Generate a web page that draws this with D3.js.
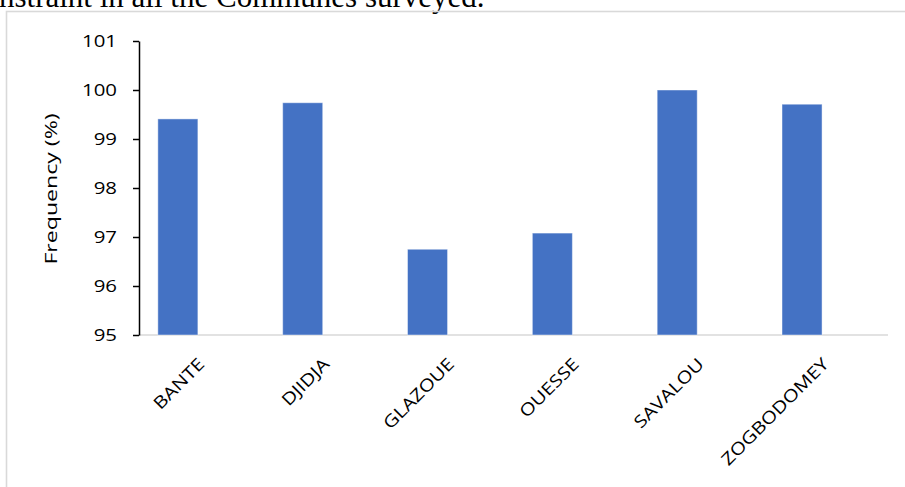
<!DOCTYPE html>
<html>
<head>
<meta charset="utf-8">
<script src="https://cdn.jsdelivr.net/npm/d3@7"></script>
<style>
  body { margin: 0; background: #ffffff; overflow: hidden; }
  text { font-family: "Open Sans", "Noto Sans", sans-serif; fill: #000000; }
</style>
</head>
<body>
<script>
'use strict';

// chart data
const communes = ["BANTE", "DJIDJA", "GLAZOUE", "OUESSE", "SAVALOU", "ZOGBODOMEY"];
const frequency = [99.41, 99.74, 96.75, 97.08, 100.0, 99.71];
const yTicks = [95, 96, 97, 98, 99, 100, 101];
const yTitle = "Frequency (%)";
const captionText = "nstraint in all the Communes surveyed.";

(function() {

  let svgContainer = ""; // keep SVG reference in global scope
  let data = communes.map((c, i) => ({ commune: c, value: frequency[i] }));

  window.onload = function() {
    svgContainer = d3.select('body')
      .append('svg')
      .attr('width', 905)
      .attr('height', 487);

    svgContainer.append('rect')
      .attr('width', 905)
      .attr('height', 487)
      .attr('fill', '#ffffff');

    // document text cut off above the chart
    svgContainer.append('text')
      .attr('x', -1)
      .attr('y', 7)
      .style('font-family', '"Liberation Serif", "Times New Roman", serif')
      .style('font-size', '31px')
      .text(captionText);

    // chart frame
    svgContainer.append('rect')
      .attr('x', 6.5)
      .attr('y', 11.5)
      .attr('width', 960)
      .attr('height', 520)
      .attr('fill', 'none')
      .attr('stroke', '#d9d9d9')
      .attr('stroke-width', 1.6);

    let maps = drawAxes();
    plotData(maps);
    makeLabels(maps);
  }

  // scales and axes
  function drawAxes() {
    let xScale = d3.scaleBand()
      .domain(communes)
      .range([139, 888])
      .padding(0);

    // two slots per category like an excel cluster, only the first is filled
    let slot = d3.scaleBand()
      .domain(["Frequency", "empty"])
      .range([0, xScale.bandwidth()])
      .paddingInner(0.15)
      .paddingOuter(0.4);

    let yScale = d3.scaleLinear()
      .domain([95, 101])
      .range([335, 41]);

    // gray category axis line
    svgContainer.append('line')
      .attr('x1', xScale.range()[0])
      .attr('x2', xScale.range()[1])
      .attr('y1', yScale(95))
      .attr('y2', yScale(95))
      .attr('stroke', '#d9d9d9')
      .attr('stroke-width', 1.6);

    let yAxis = d3.axisLeft(yScale)
      .tickValues(yTicks)
      .tickFormat(d3.format('d'))
      .tickSize(6)
      .tickSizeOuter(0)
      .tickPadding(16);

    let g = svgContainer.append('g')
      .attr('transform', 'translate(139, 0)')
      .call(yAxis);

    g.select('.domain').attr('stroke', '#000').attr('stroke-width', 1.5);
    g.selectAll('.tick line').attr('stroke', '#000').attr('stroke-width', 1.5);
    g.selectAll('.tick text')
      .style('font-size', '17px')
      .attr('fill', '#000')
      .attr('transform', function(d) { return 'translate(' + (-6 - 16) + ',0) scale(1.2,1) translate(' + (6 + 16) + ',0)'; });

    return { x: xScale, slot: slot, y: yScale };
  }

  // bars
  function plotData(map) {
    svgContainer.selectAll('.bar')
      .data(data)
      .enter()
      .append('rect')
        .attr('class', 'bar')
        .attr('x', d => map.x(d.commune) + map.slot("Frequency"))
        .attr('y', d => map.y(d.value))
        .attr('width', map.slot.bandwidth())
        .attr('height', d => map.y(95) - map.y(d.value))
        .attr('fill', '#4472c4')
        .attr('stroke', '#ffffff')
        .attr('stroke-opacity', 0.45)
        .attr('stroke-width', 1);
  }

  // category labels and axis title
  function makeLabels(map) {
    svgContainer.selectAll('.cat')
      .data(communes)
      .enter()
      .append('text')
        .attr('class', 'cat')
        .attr('transform', d => 'translate(' + (map.x(d) + map.x.bandwidth() / 2) + ',361) rotate(-45) scale(1.2,1)')
        .attr('text-anchor', 'end')
        .attr('dy', '0.35em')
        .style('font-size', '17px')
        .text(d => d);

    svgContainer.append('text')
      .attr('transform', 'translate(57, 189) rotate(-90) scale(1.36,1)')
      .attr('text-anchor', 'middle')
      .style('font-size', '17px')
      .text(yTitle);
  }

})();
</script>
</body>
</html>
